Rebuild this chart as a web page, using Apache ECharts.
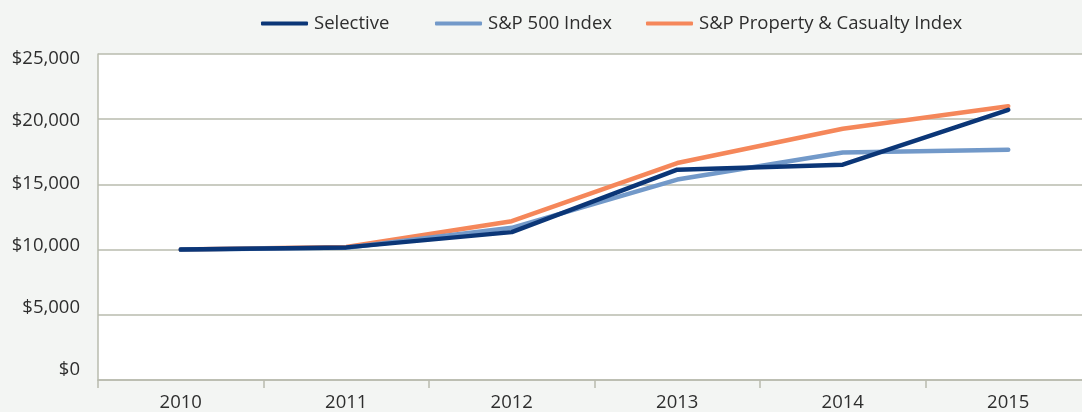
<!DOCTYPE html>
<html>
<head>
<meta charset="utf-8">
<script src="https://cdn.jsdelivr.net/npm/echarts@6/dist/echarts.min.js"></script>
<style>
html,body{margin:0;padding:0;background:#f3f5f3;overflow:hidden;width:1082px;height:412px;}
#c{width:1092px;height:412px;}
</style>
</head>
<body>
<div id="c"></div>
<script>
const years = ['2010','2011','2012','2013','2014','2015'];
const selective = [10000, 10170, 11340, 16130, 16510, 20720];
const sp500 = [10000, 10150, 11670, 15370, 17450, 17660];
const spPC = [10000, 10200, 12180, 16640, 19270, 21000];
const yTicks = [0, 5000, 10000, 15000, 20000, 25000];
const seriesNames = ['Selective', 'S&P 500 Index', 'S&P Property & Casualty Index'];
const colors = ['#0b3677', '#7299c9', '#f5875a'];

const FONT = '"Open Sans", sans-serif';
const TXT = '#2e2e2e';
const GRIDC = '#b9bbae';

function money(v){ return '$' + Number(v).toLocaleString('en-US'); }

const chart = echarts.init(document.getElementById('c'), null, {renderer:'canvas'});

function legendAt(left, idx){
  return {
    left: left, top: 9,
    data: [seriesNames[idx]],
    itemWidth: 47, itemHeight: 4, itemGap: 0,
    icon: 'roundRect',
    textStyle: {fontFamily: FONT, fontSize: 18.5, color: TXT, padding: [0,0,0,1]},
    selectedMode: false
  };
}

chart.setOption({
  backgroundColor: '#f3f5f3',
  animation: false,
  legend: [legendAt(256, 0), legendAt(430, 1), legendAt(641, 2)],
  grid: {left: 98, top: 54, right: 1, bottom: 31, show: true, backgroundColor: '#ffffff', borderWidth: 0, containLabel: false},
  xAxis: {
    type: 'category', data: years, boundaryGap: true,
    axisLine: {show: true, lineStyle: {color: GRIDC, width: 1.5}},
    axisTick: {show: true, alignWithLabel: false, interval: 0, length: 8, lineStyle: {color: GRIDC, width: 1.5}},
    axisLabel: {fontFamily: FONT, fontSize: 18.5, color: TXT, margin: 13, interval: 0},
    splitLine: {show: false}
  },
  yAxis: [
    {
      type: 'value', min: 0, max: 25000, interval: 5000,
      axisLine: {show: true, lineStyle: {color: GRIDC, width: 1.5}},
      axisTick: {show: false},
      axisLabel: {show: false},
      splitLine: {show: true, lineStyle: {color: GRIDC, width: 1.5}}
    },
    {
      type: 'value', position: 'left', min: -801.3, max: 25400.6,
      axisLine: {show: false}, axisTick: {show: false}, splitLine: {show: false},
      axisLabel: {customValues: yTicks, formatter: money, fontFamily: FONT, fontSize: 18.5, color: TXT, margin: 18}
    }
  ],
  series: [
    {name: seriesNames[2], type: 'line', data: spPC, yAxisIndex: 0, symbol: 'none', color: colors[2], lineStyle: {width: 4.5, color: colors[2], cap: 'round', join: 'round'}, z: 2},
    {name: seriesNames[1], type: 'line', data: sp500, yAxisIndex: 0, symbol: 'none', color: colors[1], lineStyle: {width: 4.5, color: colors[1], cap: 'round', join: 'round'}, z: 3},
    {name: seriesNames[0], type: 'line', data: selective, yAxisIndex: 0, symbol: 'none', color: colors[0], lineStyle: {width: 4.5, color: colors[0], cap: 'round', join: 'round'}, z: 4}
  ]
});
</script>
</body>
</html>
